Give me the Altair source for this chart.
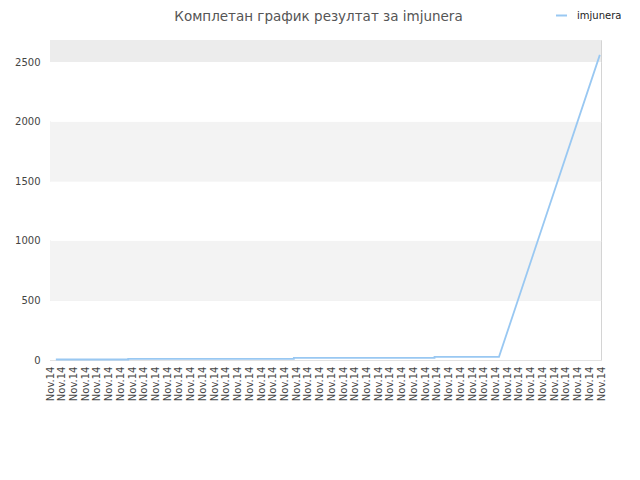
import altair as alt
import pandas as pd

# x-axis tick labels (48 evenly spaced ticks)
tick_labels = ["Nov.14"] * 48

# line series: position along the tick index axis, and score
series_name = "imjunera"
point_pos = [0.5, 6.67, 6.67, 20.8, 20.8, 32.8, 32.8, 38.3, 46.9]
point_val = [4, 4, 10, 10, 18, 18, 27, 27, 2560]

# background bands
band_lo = [0, 500, 1000, 1500, 2000, 2500]
band_hi = [500, 1000, 1500, 2000, 2500, 2685]
band_kind = ["a", "b", "a", "b", "a", "c"]

y_ticks = [0, 500, 1000, 1500, 2000, 2500]

line_df = pd.DataFrame({"pos": point_pos, "val": point_val, "series": [series_name] * len(point_pos)})
band_df = pd.DataFrame({"lo": band_lo, "hi": band_hi, "kind": band_kind})

FONT = "DejaVu Sans"
YMAX = 2685
label_arr = "[" + ",".join("'%s'" % t for t in tick_labels) + "]"

x_scale = alt.Scale(domain=[0, len(tick_labels) - 1], nice=False, zero=False)
y_scale = alt.Scale(domain=[0, YMAX], nice=False)

bands = alt.Chart(band_df).mark_rect().encode(
    x=alt.value(0),
    x2=alt.value(551),
    y=alt.Y("lo:Q", scale=y_scale, axis=alt.Axis(
        values=y_ticks, format="d", grid=True, gridColor="#e2e2e2", domain=False, ticks=False,
        labelPadding=10, labelFontSize=10, labelColor="#444", labelFont=FONT, title=None)),
    y2="hi:Q",
    color=alt.Color("kind:N", scale=alt.Scale(domain=["a", "b", "c"],
                                               range=["#ffffff", "#f3f3f3", "#ececec"]),
                    legend=None),
)

line = alt.Chart(line_df).mark_line(strokeWidth=1.8).encode(
    x=alt.X("pos:Q", scale=x_scale, axis=alt.Axis(
        values=list(range(len(tick_labels))), labelExpr=label_arr + "[datum.value]",
        labelAngle=270, labelAlign="right", labelBaseline="middle",
        grid=False, ticks=False, domain=False, labelPadding=6,
        labelFontSize=10, labelColor="#444", labelFont=FONT, title=None,
        labelOverlap=False)),
    y=alt.Y("val:Q", scale=y_scale),
    color=alt.Color("series:N", scale=alt.Scale(range=["#99c8f2"]),
                    legend=alt.Legend(orient="none", legendX=505, legendY=-31,
                                      symbolType="stroke", symbolStrokeWidth=2,
                                      symbolSize=120, labelFontSize=10, labelOffset=9,
                                      labelFont=FONT, labelColor="#222", title=None)),
    order=alt.Order("val:Q"),
)

chart = alt.layer(bands, line).resolve_scale(color="independent").properties(
    width=551,
    height=320,
    padding={"left": 42, "top": 32, "right": 20, "bottom": 100},
    autosize=alt.AutoSizeParams(type="none"),
    title=alt.TitleParams(
        "Комплетан график резултат за imjunera",
        font=FONT, fontSize=13.5, fontWeight="normal", color="#555",
        anchor="middle", dx=-7, dy=17, offset=-8, baseline="alphabetic",
    ),
).configure_view(stroke="#d4d4d4", strokeWidth=1)

chart.save("out.html", embed_options={"renderer": "svg", "actions": False})
